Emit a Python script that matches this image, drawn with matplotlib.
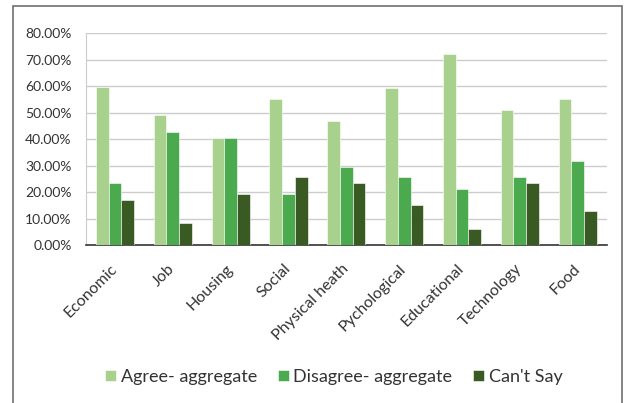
import numpy as np
import matplotlib
matplotlib.use('Agg')
import matplotlib.pyplot as plt
import matplotlib.transforms as mtransforms
from matplotlib.patches import Rectangle
from matplotlib.ticker import PercentFormatter

categories = ["Economic", "Job", "Housing", "Social", "Physical heath",
              "Pychological", "Educational", "Technology", "Food"]
agree = [59.5, 48.9, 40.3, 55.2, 46.8, 59.4, 72.1, 51.1, 55.2]
disagree = [23.4, 42.6, 40.3, 19.2, 29.6, 25.5, 21.3, 25.5, 31.7]
cant_say = [17.1, 8.3, 19.2, 25.5, 23.4, 15.0, 6.2, 23.4, 12.8]
series_names = ["Agree- aggregate", "Disagree- aggregate", "Can't Say"]
colors = ["#A9D18E", "#4CAA4E", "#3A5A24"]

plt.rcParams['font.family'] = ['Lato', 'DejaVu Sans']

fig = plt.figure(figsize=(6.24, 4.03), dpi=100)
ax = fig.add_axes([0.138, 0.392, 0.834, 0.526])

# outer chart border (bottom edge runs off the image)
fig.patches.append(Rectangle((0.021, -0.05), 0.976, 1.035, transform=fig.transFigure,
                             fill=False, edgecolor="#6f6f6f", linewidth=1.2))

x = np.arange(len(categories))
w = 0.22
for i, (vals, name) in enumerate(zip([agree, disagree, cant_say], series_names)):
    ax.bar(x + (i - 1) * w, vals, w, color=colors[i], label=name, zorder=3,
           edgecolor="white", linewidth=0.4)

ax.set_xlim(-0.5, len(categories) - 0.5)
ax.set_ylim(0, 80)
ax.set_yticks(np.arange(0, 81, 10))
ax.yaxis.set_major_formatter(PercentFormatter(decimals=2))
ax.grid(axis='y', color="#cccccc", linewidth=1, zorder=0)
ax.set_xticks(x)
ax.tick_params(axis='both', length=0, colors="#333333")
ax.tick_params(axis='y', pad=10.5, labelsize=10)
ax.tick_params(axis='x', pad=12)
ax.set_xticklabels(categories, rotation=45, ha='right', rotation_mode='anchor',
                   fontsize=11.5)
# nudge the rotated labels a little left, as in the original
shift = mtransforms.ScaledTranslation(-5 / 100, 0, fig.dpi_scale_trans)
for lbl in ax.get_xticklabels():
    lbl.set_transform(lbl.get_transform() + shift)
for s in ['top', 'right']:
    ax.spines[s].set_visible(False)
ax.spines['left'].set_color("#cccccc")
ax.spines['bottom'].set_color("#333333")
ax.spines['bottom'].set_linewidth(1.2)

fig.legend(loc='center', bbox_to_anchor=(0.535, 0.0645), ncol=3, frameon=False,
           fontsize=13, handlelength=0.6, handleheight=0.6, handletextpad=0.25,
           columnspacing=1.16, labelcolor="#333333")

fig.savefig("out.png", dpi=100)
